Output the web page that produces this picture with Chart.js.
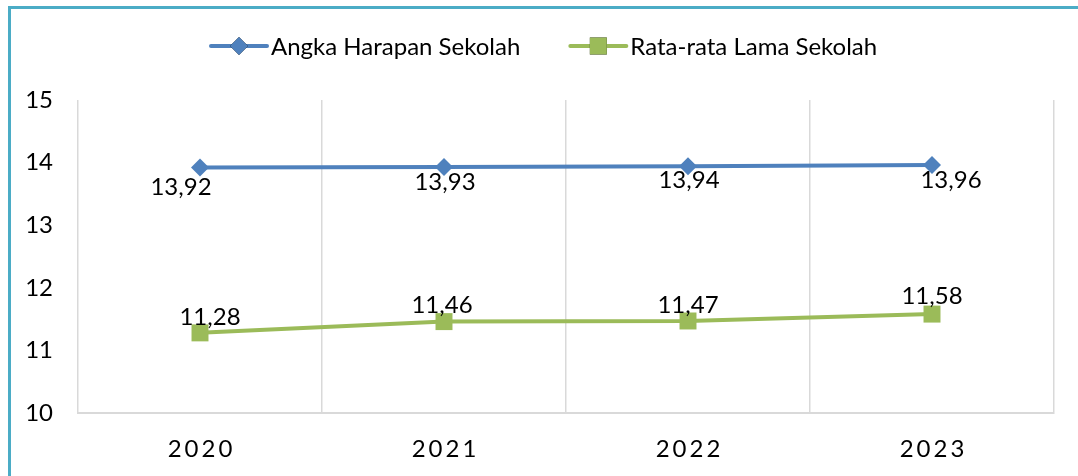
<!DOCTYPE html>
<html>
<head>
<meta charset="utf-8">
<script src="https://cdn.jsdelivr.net/npm/chart.js@4/dist/chart.umd.min.js"></script>
<style>
  html, body { margin: 0; padding: 0; background: #fff; }
  #wrap { position: relative; width: 1078px; height: 476px; overflow: hidden; }
  #frame { position: absolute; left: 8px; top: 6px; width: 1200px; height: 600px;
           border-left: 3px solid #4bacc6; border-top: 3px solid #4bacc6; box-sizing: border-box; pointer-events: none; }
  canvas { position: absolute; left: 0; top: 0; }
</style>
</head>
<body>
<div id="wrap">
  <canvas id="c" width="1078" height="476"></canvas>
  <div id="frame"></div>
</div>
<script>
const categories = ['2020', '2021', '2022', '2023'];
const seriesNames = ['Angka Harapan Sekolah', 'Rata-rata Lama Sekolah'];
const harapanSekolah = [13.92, 13.93, 13.94, 13.96];
const rataLamaSekolah = [11.28, 11.46, 11.47, 11.58];
const yTicks = [10, 11, 12, 13, 14, 15];

const BLUE = '#4f81bd';
const GREEN = '#9bbb59';
const FONT = 'Lato, "Open Sans", sans-serif';
const FS = 24;

// label offsets (px) relative to each point, per dataset
const labelOffsets = [
  [[-19, 20], [1, 15], [1, 14], [19, 15]],
  [[10, -16], [-2, -16], [0, -16], [0, -18]]
];

const fmt = v => v.toFixed(2).replace('.', ',');

const dataLabelPlugin = {
  id: 'dataLabels',
  afterDatasetsDraw(chart) {
    const ctx = chart.ctx;
    ctx.save();
    ctx.font = FS + 'px ' + FONT;
    ctx.fillStyle = '#000';
    ctx.textAlign = 'center';
    ctx.textBaseline = 'middle';
    chart.data.datasets.forEach((ds, di) => {
      const meta = chart.getDatasetMeta(di);
      meta.data.forEach((pt, i) => {
        const off = labelOffsets[di][i];
        ctx.fillText(fmt(ds.data[i]), pt.x + off[0], pt.y + off[1]);
      });
    });
    ctx.restore();
  }
};

const legendPlugin = {
  id: 'customLegend',
  afterDraw(chart) {
    const ctx = chart.ctx;
    ctx.save();
    ctx.font = FS + 'px ' + FONT;
    ctx.textBaseline = 'middle';
    ctx.textAlign = 'left';
    const y = 46;
    let x = 211;
    chart.data.datasets.forEach((ds, di) => {
      ctx.strokeStyle = ds.borderColor;
      ctx.lineWidth = 4;
      ctx.lineCap = 'round';
      ctx.beginPath();
      ctx.moveTo(x, y);
      ctx.lineTo(x + 56, y);
      ctx.stroke();
      Chart.helpers.drawPoint(ctx, {
        pointStyle: ds.pointStyle, radius: ds.pointRadius, borderWidth: 0
      }, x + 28, y);
      ctx.fillStyle = ds.backgroundColor;
      ctx.fill();
      ctx.fillStyle = '#000';
      ctx.fillText(ds.label, x + 60, y + 1);
      x += 60 + ctx.measureText(ds.label).width + 50;
    });
    ctx.restore();
  }
};

const spacingPlugin = {
  id: 'xLetterSpacing',
  beforeDraw(chart) {
    const sc = chart.scales.x;
    if (sc && !sc._patched) {
      const orig = sc.drawLabels.bind(sc);
      sc.drawLabels = function (area) {
        const ctx = this.ctx;
        ctx.save();
        ctx.letterSpacing = '3px';
        ctx.translate(1.5, 0);
        orig(area);
        ctx.restore();
      };
      sc._patched = true;
    }
  }
};

new Chart(document.getElementById('c'), {
  type: 'line',
  data: {
    labels: categories,
    datasets: [
      {
        label: seriesNames[0],
        data: harapanSekolah,
        borderColor: BLUE,
        backgroundColor: BLUE,
        borderWidth: 4,
        pointStyle: 'rectRot',
        pointRadius: 9,
        pointBorderWidth: 0,
        tension: 0
      },
      {
        label: seriesNames[1],
        data: rataLamaSekolah,
        borderColor: GREEN,
        backgroundColor: GREEN,
        borderWidth: 4,
        pointStyle: 'rect',
        pointRadius: 12,
        pointBorderWidth: 0,
        tension: 0
      }
    ]
  },
  options: {
    responsive: false,
    animation: false,
    layout: { padding: { top: 100, right: 24, left: 0, bottom: 0 } },
    plugins: {
      legend: { display: false },
      tooltip: { enabled: false }
    },
    scales: {
      x: {
        offset: true,
        grid: { display: true, offset: true, color: '#d9d9d9', lineWidth: 1.5, drawTicks: false },
        border: { display: true, color: '#d9d9d9', width: 2 },
        ticks: { color: '#000', font: { family: FONT, size: FS }, padding: 22 },
        afterFit(s) { s.height = 63; }
      },
      y: {
        min: 10,
        max: 15,
        afterBuildTicks(s) { s.ticks = yTicks.map(v => ({ value: v })); },
        grid: { display: false, drawTicks: false },
        border: { display: false },
        ticks: { color: '#000', font: { family: FONT, size: FS }, padding: 25, stepSize: 1 },
        afterFit(s) { s.width = 78; }
      }
    }
  },
  plugins: [dataLabelPlugin, legendPlugin, spacingPlugin]
});
</script>
</body>
</html>
